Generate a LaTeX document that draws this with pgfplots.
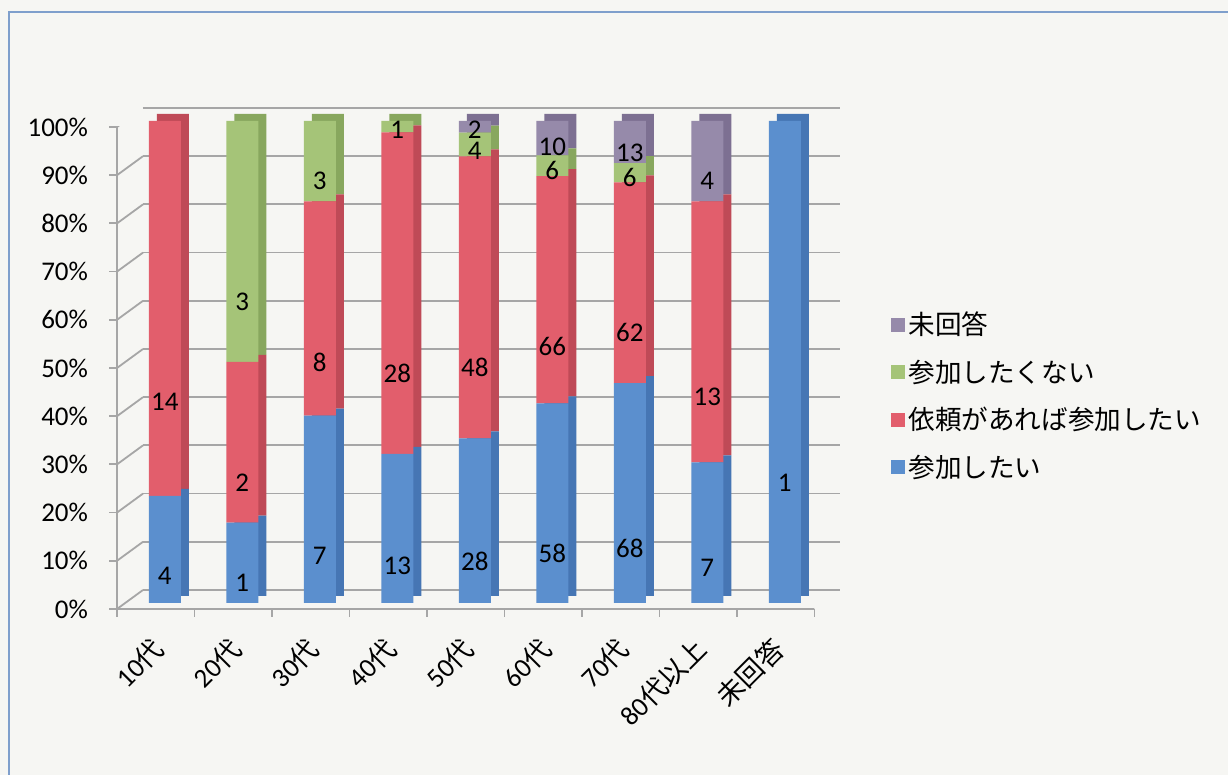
\documentclass[border=0pt]{standalone}
\usepackage{pgfplots}
\pgfplotsset{compat=1.18}
\usepackage{pgfplotstable}
\usepackage{fontspec}
\setmainfont{Carlito}
\newfontfamily\jp{Noto Sans CJK JP}

\definecolor{cA}{HTML}{5B8FCE}
\definecolor{cB}{HTML}{E25E6C}
\definecolor{cC}{HTML}{A5C478}
\definecolor{cD}{HTML}{968AAA}
\definecolor{sA}{HTML}{4676B4}
\definecolor{sB}{HTML}{BF4A57}
\definecolor{sC}{HTML}{88A75E}
\definecolor{sD}{HTML}{7D7092}
\definecolor{gridc}{HTML}{A6A6A6}
\definecolor{bgc}{HTML}{F6F6F3}
\definecolor{framec}{HTML}{7F9FCC}

% counts: a=参加したい, b=依頼があれば参加したい, c=参加したくない, d=未回答, t=total
\pgfplotstableread{
x a b c d t
0 4 14 0 0 18
1 1 2 3 0 6
2 7 8 3 0 18
3 13 28 1 0 42
4 28 48 4 2 82
5 58 66 6 10 140
6 68 62 6 13 149
7 7 13 0 4 24
8 1 0 0 0 1
}\datatable

\pgfplotsset{
  base/.style={scale only axis, width=348.75pt, height=241pt,
    xmin=-0.5, xmax=8.5, ymin=0, ymax=100, anchor=south west},
  bars/.style={base, hide axis, ybar stacked, bar width=16pt, clip=false},
  myleg/.style={legend image code/.code={\fill[##1] (0pt,-3.5pt) rectangle (7pt,3.5pt);}},
}

\begin{document}
\begin{tikzpicture}
\useasboundingbox (0,0) rectangle (614pt,387.5pt);
\fill[bgc] (0,0) rectangle (614pt,387.5pt);
\draw[framec, line width=1pt] (4.5pt,-5pt) |- (620pt,381.5pt);

% back wall grid
\begin{axis}[base, at={(71.5pt,92.5pt)},
  axis line style={draw=none}, ymajorgrids, ytick={0,10,...,100}, yticklabels={},
  xtick=\empty, major tick length=0pt,
  grid style={gridc, line width=0.9pt}]
\addplot[draw=none] coordinates {(0,0)};
\end{axis}

% front frame
\begin{axis}[base, at={(58.5pt,83pt)},
  axis x line*=bottom, axis y line*=left,
  axis line style={gridc, line width=0.9pt},
  tick style={gridc, line width=0.9pt}, tick align=outside,
  major tick length=4pt,
  ytick={0,10,...,100},
  yticklabels={0\%,10\%,20\%,30\%,40\%,50\%,60\%,70\%,80\%,90\%,100\%},
  yticklabel style={xshift=-7pt, font=\fontsize{13.5}{15}\selectfont},
  xtick={-0.5,0.5,...,8.5}, xticklabels={},
  extra x ticks={0,1,2,3,4,5,6,7,8},
  extra x tick labels={{10{\jp 代}},{20{\jp 代}},{30{\jp 代}},{40{\jp 代}},{50{\jp 代}},{60{\jp 代}},{70{\jp 代}},{80{\jp 代以上}},{{\jp 未回答}}},
  extra x tick style={major tick length=0pt},
  xticklabel style={xshift=4pt, yshift=-15pt, rotate=45, anchor=east, font=\fontsize{13.5}{15}\selectfont},
  ]
\addplot[draw=none] coordinates {(0,0)};
\pgfplotsinvokeforeach{0,10,...,100}{
  \draw[gridc, line width=0.9pt] (axis cs:-0.5,#1) -- ++(13pt,9.5pt);
}
\draw[gridc, line width=0.9pt] (axis cs:8.5,0) -- ++(13pt,9.5pt);
\end{axis}

% back copies (side and top faces)
\begin{axis}[bars, at={(67pt,89.5pt)}]
\addplot[fill=sA, draw=none] table[x=x, y expr=\thisrow{a}/\thisrow{t}*100] {\datatable};
\addplot[fill=sB, draw=none] table[x=x, y expr=\thisrow{b}/\thisrow{t}*100] {\datatable};
\addplot[fill=sC, draw=none] table[x=x, y expr=\thisrow{c}/\thisrow{t}*100] {\datatable};
\addplot[fill=sD, draw=none] table[x=x, y expr=\thisrow{d}/\thisrow{t}*100] {\datatable};
\end{axis}

% front faces
\begin{axis}[bars, at={(63pt,86pt)},
  point meta=explicit,
  /pgf/number format/assume math mode=true,
  nodes near coords={\pgfmathfloatifflags{\pgfplotspointmeta}{0}{}{\pgfmathprintnumber{\pgfplotspointmeta}}},
  every node near coord/.append style={anchor=center, yshift=-\pct*0.6025pt,
    font=\fontsize{13.5}{15}\selectfont, text=black},
  reverse legend, legend cell align=left,
  legend style={draw=none, fill=none, at={(1.087,0.621)}, anchor=north west,
    font=\jp\fontsize{13.3}{15}\selectfont, row sep=7pt,
    /tikz/every even column/.append style={column sep=2pt}},
  ]
\addplot[fill=cA, draw=none, myleg, visualization depends on={\thisrow{a}/\thisrow{t}*100 \as \pct}]
  table[x=x, y expr=\thisrow{a}/\thisrow{t}*100, meta=a] {\datatable};
\addlegendentry{参加したい}
\addplot[fill=cB, draw=none, myleg, visualization depends on={\thisrow{b}/\thisrow{t}*100 \as \pct}]
  table[x=x, y expr=\thisrow{b}/\thisrow{t}*100, meta=b] {\datatable};
\addlegendentry{依頼があれば参加したい}
\addplot[fill=cC, draw=none, myleg, visualization depends on={\thisrow{c}/\thisrow{t}*100 \as \pct}]
  table[x=x, y expr=\thisrow{c}/\thisrow{t}*100, meta=c] {\datatable};
\addlegendentry{参加したくない}
\addplot[fill=cD, draw=none, myleg, visualization depends on={\thisrow{d}/\thisrow{t}*100 \as \pct}]
  table[x=x, y expr=\thisrow{d}/\thisrow{t}*100, meta=d] {\datatable};
\addlegendentry{未回答}
\end{axis}
\end{tikzpicture}
\end{document}
